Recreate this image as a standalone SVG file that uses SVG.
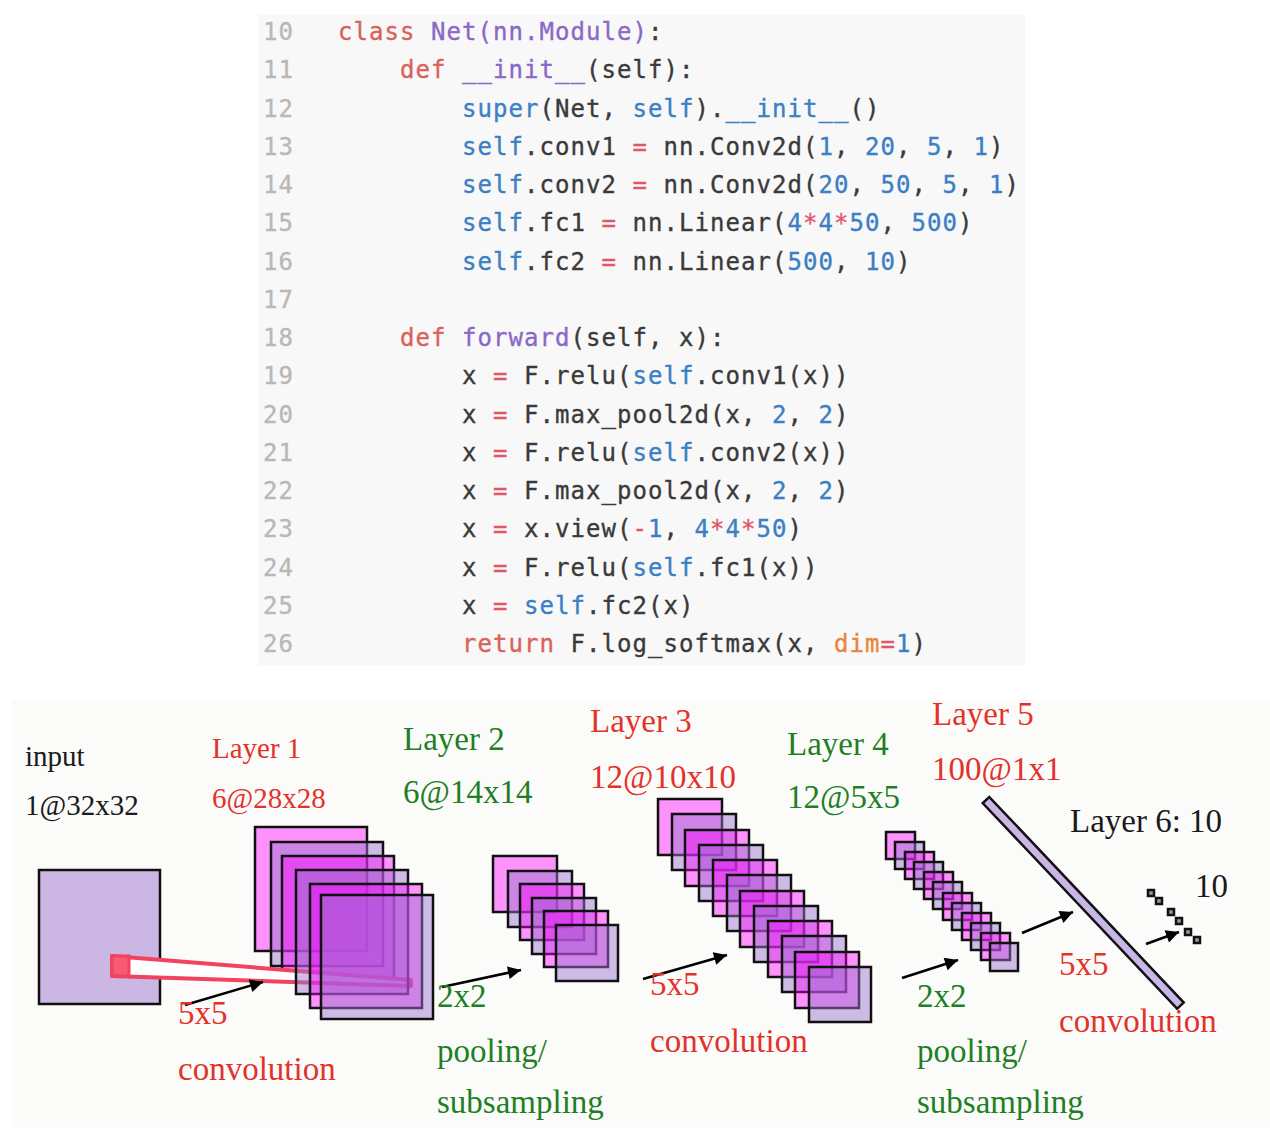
<svg xmlns="http://www.w3.org/2000/svg" width="1270" height="1133" viewBox="0 0 1270 1133">
<style>
.code{font-family:"DejaVu Sans Mono","Liberation Mono",monospace;font-size:24px;letter-spacing:1.05px;fill:#3a3a3a;stroke:#3a3a3a;stroke-width:0.35}
.ln{fill:#b8b8b8;stroke:#b8b8b8}
.kw{fill:#d9625a;stroke:#d9625a}
.cl{fill:#8a68c8;stroke:#8a68c8}
.bl{fill:#3b7fc4;stroke:#3b7fc4}
.op{fill:#e0576a;stroke:#e0576a}
.or{fill:#e8863a;stroke:#e8863a}
.lbl{font-family:"Liberation Serif","Times New Roman",serif;font-size:33px}
.sm{font-size:29px}
.red{fill:#e3322b}
.grn{fill:#1f7f24}
.blk{fill:#1a1a1a}
.A{fill:#ff00ff;fill-opacity:0.42;stroke:#111;stroke-width:2.5}
.B{fill:#9b72cf;fill-opacity:0.48;stroke:#111;stroke-width:2.5}
.arr{stroke:#000;stroke-width:2.5;fill:none;marker-end:url(#ah)}
</style>
<defs>
<marker id="ah" viewBox="0 0 10 10" refX="10" refY="5" markerWidth="20" markerHeight="13" markerUnits="userSpaceOnUse" orient="auto"><path d="M0,0 L10,5 L0,10 z" fill="#000"/></marker>
</defs>
<rect x="0" y="0" width="1270" height="1133" fill="#ffffff"/>
<rect x="258" y="15" width="767" height="650" fill="#f8f8f8"/>
<rect x="12" y="700" width="1258" height="428" fill="#fbfcfa"/>

<g id="code">
<text class="code ln" x="263" y="40">10</text>
<text class="code ln" x="263" y="78.25">11</text>
<text class="code ln" x="263" y="116.5">12</text>
<text class="code ln" x="263" y="154.75">13</text>
<text class="code ln" x="263" y="193">14</text>
<text class="code ln" x="263" y="231.25">15</text>
<text class="code ln" x="263" y="269.5">16</text>
<text class="code ln" x="263" y="307.75">17</text>
<text class="code ln" x="263" y="346">18</text>
<text class="code ln" x="263" y="384.25">19</text>
<text class="code ln" x="263" y="422.5">20</text>
<text class="code ln" x="263" y="460.75">21</text>
<text class="code ln" x="263" y="499">22</text>
<text class="code ln" x="263" y="537.25">23</text>
<text class="code ln" x="263" y="575.5">24</text>
<text class="code ln" x="263" y="613.75">25</text>
<text class="code ln" x="263" y="652">26</text>

<text class="code" x="338" y="40" xml:space="preserve"><tspan class="kw">class</tspan> <tspan class="cl">Net(nn.Module)</tspan>:</text>
<text class="code" x="400" y="78.25" xml:space="preserve"><tspan class="kw">def</tspan> <tspan class="cl">__init__</tspan>(self):</text>
<text class="code" x="462" y="116.5" xml:space="preserve"><tspan class="bl">super</tspan>(Net, <tspan class="bl">self</tspan>).<tspan class="bl">__init__</tspan>()</text>
<text class="code" x="462" y="154.75" xml:space="preserve"><tspan class="bl">self</tspan>.conv1 <tspan class="op">=</tspan> nn.Conv2d(<tspan class="bl">1</tspan>, <tspan class="bl">20</tspan>, <tspan class="bl">5</tspan>, <tspan class="bl">1</tspan>)</text>
<text class="code" x="462" y="193" xml:space="preserve"><tspan class="bl">self</tspan>.conv2 <tspan class="op">=</tspan> nn.Conv2d(<tspan class="bl">20</tspan>, <tspan class="bl">50</tspan>, <tspan class="bl">5</tspan>, <tspan class="bl">1</tspan>)</text>
<text class="code" x="462" y="231.25" xml:space="preserve"><tspan class="bl">self</tspan>.fc1 <tspan class="op">=</tspan> nn.Linear(<tspan class="bl">4</tspan><tspan class="op">*</tspan><tspan class="bl">4</tspan><tspan class="op">*</tspan><tspan class="bl">50</tspan>, <tspan class="bl">500</tspan>)</text>
<text class="code" x="462" y="269.5" xml:space="preserve"><tspan class="bl">self</tspan>.fc2 <tspan class="op">=</tspan> nn.Linear(<tspan class="bl">500</tspan>, <tspan class="bl">10</tspan>)</text>
<text class="code" x="400" y="346" xml:space="preserve"><tspan class="kw">def</tspan> <tspan class="cl">forward</tspan>(self, x):</text>
<text class="code" x="462" y="384.25" xml:space="preserve">x <tspan class="op">=</tspan> F.relu(<tspan class="bl">self</tspan>.conv1(x))</text>
<text class="code" x="462" y="422.5" xml:space="preserve">x <tspan class="op">=</tspan> F.max_pool2d(x, <tspan class="bl">2</tspan>, <tspan class="bl">2</tspan>)</text>
<text class="code" x="462" y="460.75" xml:space="preserve">x <tspan class="op">=</tspan> F.relu(<tspan class="bl">self</tspan>.conv2(x))</text>
<text class="code" x="462" y="499" xml:space="preserve">x <tspan class="op">=</tspan> F.max_pool2d(x, <tspan class="bl">2</tspan>, <tspan class="bl">2</tspan>)</text>
<text class="code" x="462" y="537.25" xml:space="preserve">x <tspan class="op">=</tspan> x.view(<tspan class="op">-</tspan><tspan class="bl">1</tspan>, <tspan class="bl">4</tspan><tspan class="op">*</tspan><tspan class="bl">4</tspan><tspan class="op">*</tspan><tspan class="bl">50</tspan>)</text>
<text class="code" x="462" y="575.5" xml:space="preserve">x <tspan class="op">=</tspan> F.relu(<tspan class="bl">self</tspan>.fc1(x))</text>
<text class="code" x="462" y="613.75" xml:space="preserve">x <tspan class="op">=</tspan> <tspan class="bl">self</tspan>.fc2(x)</text>
<text class="code" x="462" y="652" xml:space="preserve"><tspan class="kw">return</tspan> F.log_softmax(x, <tspan class="or">dim</tspan><tspan class="op">=</tspan><tspan class="bl">1</tspan>)</text>
</g>

<g id="input">
<text class="lbl sm blk" x="25" y="766">input</text>
<text class="lbl sm blk" x="25" y="815">1@32x32</text>
<rect x="39" y="870" width="121" height="134" fill="#cbb6e4" stroke="#111" stroke-width="2.5"/>
</g>

<g id="layer1">
<text class="lbl sm red" x="212" y="758">Layer 1</text>
<text class="lbl sm red" x="212" y="808">6@28x28</text>
<rect class="A" x="255" y="827" width="112" height="124"/>
<rect class="B" x="271" y="842" width="112" height="124"/>
<rect class="A" x="282" y="856" width="112" height="124"/>
<polygon points="112,956 411,980 411,986 112,976" fill="#ffffff" stroke="#f0435f" stroke-width="4" stroke-linejoin="round"/>
<rect x="112" y="956" width="17" height="20" fill="#f75c74" stroke="#f0435f" stroke-width="3"/>
<rect class="B" x="296" y="870" width="112" height="124"/>
<rect class="A" x="310" y="884" width="112" height="124"/>
<rect class="B" x="321" y="895" width="112" height="124"/>
</g>

<g id="layer2">
<text class="lbl grn" x="403" y="750">Layer 2</text>
<text class="lbl grn" x="403" y="803">6@14x14</text>
<rect class="A" x="493" y="856" width="64" height="56"/>
<rect class="B" x="508" y="871" width="64" height="56"/>
<rect class="A" x="520" y="884" width="64" height="56"/>
<rect class="B" x="532" y="898" width="64" height="56"/>
<rect class="A" x="544" y="911" width="64" height="56"/>
<rect class="B" x="556" y="925" width="62" height="56"/>
</g>

<g id="layer3">
<text class="lbl red" x="590" y="732">Layer 3</text>
<text class="lbl red" x="590" y="788">12@10x10</text>
<rect class="A" x="658" y="799" width="64" height="56"/>
<rect class="B" x="672" y="814" width="64" height="56"/>
<rect class="A" x="685" y="830" width="64" height="56"/>
<rect class="B" x="699" y="845" width="64" height="56"/>
<rect class="A" x="713" y="860" width="64" height="56"/>
<rect class="B" x="727" y="875" width="64" height="56"/>
<rect class="A" x="740" y="891" width="64" height="56"/>
<rect class="B" x="754" y="906" width="64" height="56"/>
<rect class="A" x="768" y="921" width="64" height="56"/>
<rect class="B" x="782" y="936" width="64" height="56"/>
<rect class="A" x="795" y="952" width="64" height="56"/>
<rect class="B" x="809" y="967" width="62" height="55"/>
</g>

<g id="layer4">
<text class="lbl grn" x="787" y="755">Layer 4</text>
<text class="lbl grn" x="787" y="808">12@5x5</text>
<rect class="A" x="886" y="832" width="29" height="27"/>
<rect class="B" x="895" y="842" width="29" height="27"/>
<rect class="A" x="905" y="852" width="29" height="27"/>
<rect class="B" x="914" y="862" width="29" height="27"/>
<rect class="A" x="924" y="872" width="29" height="27"/>
<rect class="B" x="933" y="882" width="29" height="27"/>
<rect class="A" x="943" y="893" width="29" height="27"/>
<rect class="B" x="952" y="903" width="29" height="27"/>
<rect class="A" x="962" y="913" width="29" height="27"/>
<rect class="B" x="971" y="923" width="29" height="27"/>
<rect class="A" x="981" y="933" width="29" height="27"/>
<rect class="B" x="990" y="943" width="28" height="28"/>
</g>

<g id="layer5">
<text class="lbl red" x="932" y="725">Layer 5</text>
<text class="lbl red" x="932" y="780">100@1x1</text>
<rect x="0" y="-4.5" width="283" height="9" fill="#c9b5e6" stroke="#111" stroke-width="2.5" transform="translate(986,800) rotate(46.6)"/>
</g>

<g id="layer6">
<text class="lbl blk" x="1070" y="832">Layer 6: 10</text>
<text class="lbl blk" x="1195" y="897">10</text>
<g fill="#9a9a9a" stroke="#111" stroke-width="2.5">
<rect x="1148" y="890" width="6" height="6"/>
<rect x="1156" y="898" width="6" height="6"/>
<rect x="1168" y="909" width="6" height="6"/>
<rect x="1176" y="918" width="6" height="6"/>
<rect x="1185" y="929" width="6" height="6"/>
<rect x="1194" y="937" width="6" height="6"/>
</g>
</g>

<g id="connectors">
<path class="arr" d="M185,1005 L263,982"/>
<path class="arr" d="M442,987 L521,970"/>
<path class="arr" d="M643,979 L727,955"/>
<path class="arr" d="M902,978 L958,960"/>
<path class="arr" d="M1022,933 L1073,912"/>
<path class="arr" d="M1146,944 L1179,932"/>
</g>

<g id="op-labels">
<text class="lbl red" x="178" y="1024">5x5</text>
<text class="lbl red" x="178" y="1080">convolution</text>
<text class="lbl grn" x="437" y="1007">2x2</text>
<text class="lbl grn" x="437" y="1062">pooling/</text>
<text class="lbl grn" x="437" y="1113">subsampling</text>
<text class="lbl red" x="650" y="995">5x5</text>
<text class="lbl red" x="650" y="1052">convolution</text>
<text class="lbl grn" x="917" y="1007">2x2</text>
<text class="lbl grn" x="917" y="1062">pooling/</text>
<text class="lbl grn" x="917" y="1113">subsampling</text>
<text class="lbl red" x="1059" y="975">5x5</text>
<text class="lbl red" x="1059" y="1032">convolution</text>
</g>
</svg>
